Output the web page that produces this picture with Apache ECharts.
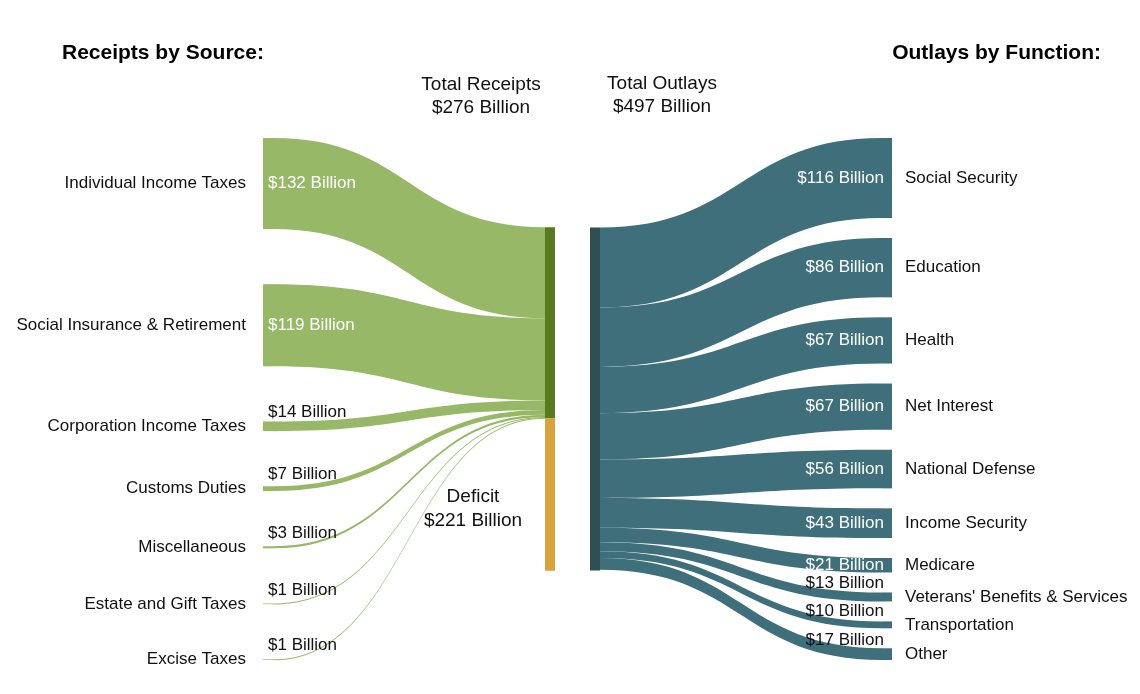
<!DOCTYPE html>
<html>
<head>
<meta charset="utf-8">
<script src="https://cdn.jsdelivr.net/npm/echarts@6/dist/echarts.min.js"></script>
<style>html,body{margin:0;padding:0;background:#fff}#chart{width:1140px;height:694px}</style>
</head>
<body>
<div id="chart"></div>
<script>
// ---- data ----
const receiptSources = ['Individual Income Taxes', 'Social Insurance & Retirement', 'Corporation Income Taxes', 'Customs Duties', 'Miscellaneous', 'Estate and Gift Taxes', 'Excise Taxes'];
const receiptValues = [132, 119, 14, 7, 3, 1, 1];
const totalReceipts = 276;
const deficitValue = 221;
const totalOutlays = 497;
const outlayFunctions = ['Social Security', 'Education', 'Health', 'Net Interest', 'National Defense', 'Income Security', 'Medicare', "Veterans' Benefits & Services", 'Transportation', 'Other'];
const outlayValues = [116, 86, 67, 67, 56, 43, 21, 13, 10, 17];

// ---- style / layout constants ----
const FONT = '"Liberation Sans", Arial, Helvetica, sans-serif';
const GREEN = '#97b866', DKGREEN = '#5a7a22', ORANGE = '#d7a33b', TEAL = '#3e6f7a', DKTEAL = '#2f4f52';
const CHART_H = 694, BOX_TOP = 138, BOX_BOTTOM = 34;
const BOX_H = CHART_H - BOX_TOP - BOX_BOTTOM;
const KY = 0.69;           // pixels per billion (shared scale)
const NODE_W = 10;
const LABEL_SIZE = 17;
const sum = a => a.reduce((s, v) => s + v, 0);
const gapL = (BOX_H - sum(receiptValues) * KY) / (receiptValues.length - 1);
const gapR = (BOX_H - sum(outlayValues) * KY) / (outlayValues.length - 1);

const ctx = document.createElement('canvas').getContext('2d');
function textW(s, size) { ctx.font = size + 'px "Liberation Sans"'; return ctx.measureText(s).width; }
const money = v => '$' + v + ' Billion';
const fitsInside = v => v * KY >= 14;

function richStyles(side) {
  const base = { fontFamily: FONT, fontSize: LABEL_SIZE };
  return {
    n: Object.assign({ color: '#111', padding: side === 'left' ? 0 : [0, 0, 0, 21] }, base),
    vi: Object.assign({ color: '#ffffff', padding: side === 'left' ? [0, 0, 0, 22] : 0 }, base),
    vo: Object.assign({ color: '#111', padding: side === 'left' ? [0, 0, 28, 22] : [0, 0, 28, 0] }, base)
  };
}

// ---- receipts series ----
const receiptsNodeValue = Math.max(sum(receiptValues), totalReceipts);
const midSpanL = (receiptsNodeValue + deficitValue) * KY;
const midTopL = (BOX_H - midSpanL) / 2;

const leftNodes = receiptSources.map((name, i) => {
  const v = receiptValues[i];
  const tag = fitsInside(v) ? 'vi' : 'vo';
  return {
    name: name,
    value: v,
    itemStyle: { color: GREEN },
    label: {
      show: true,
      position: [-17 - textW(name, LABEL_SIZE), '50%'],
      align: 'left',
      verticalAlign: 'middle',
      formatter: '{n|' + name + '}{' + tag + '|' + money(v) + '}',
      rich: richStyles('left')
    }
  };
});
leftNodes.push({
  name: 'Total Receipts', value: totalReceipts, depth: 1,
  localY: midTopL / BOX_H,
  itemStyle: { color: DKGREEN },
  label: { show: false }
});
leftNodes.push({
  name: 'Deficit', value: deficitValue, depth: 1,
  localY: (midTopL + receiptsNodeValue * KY) / BOX_H,
  itemStyle: { color: ORANGE },
  label: {
    show: true,
    formatter: 'Deficit\n' + money(deficitValue),
    position: [-72, '59%'],
    align: 'center',
    verticalAlign: 'middle',
    fontFamily: FONT, fontSize: 19, lineHeight: 24, color: '#111'
  }
});
const leftLinks = receiptSources.map((name, i) => ({ source: name, target: 'Total Receipts', value: receiptValues[i] }));

// ---- outlays series ----
const midTopR = (BOX_H - totalOutlays * KY) / 2;
const rightNodes = [{
  name: 'Total Outlays', value: totalOutlays,
  localY: midTopR / BOX_H,
  itemStyle: { color: DKTEAL },
  label: { show: false }
}];
outlayFunctions.forEach((name, i) => {
  const v = outlayValues[i];
  const tag = fitsInside(v) ? 'vi' : 'vo';
  rightNodes.push({
    name: name,
    value: v,
    itemStyle: { color: TEAL },
    label: {
      show: true,
      position: [2 - textW(money(v), LABEL_SIZE), '50%'],
      align: 'left',
      verticalAlign: 'middle',
      formatter: '{' + tag + '|' + money(v) + '}{n|' + name + '}',
      rich: richStyles('right')
    }
  });
});
const rightLinks = outlayFunctions.map((name, i) => ({ source: 'Total Outlays', target: name, value: outlayValues[i] }));

const chart = echarts.init(document.getElementById('chart'), null, { renderer: 'canvas' });
chart.setOption({
  backgroundColor: '#ffffff',
  animation: false,
  textStyle: { fontFamily: FONT },
  graphic: [
    { type: 'text', x: 62, y: 53, style: { text: 'Receipts by Source:', fill: '#000', fontFamily: FONT, fontSize: 21, fontWeight: 'bold', align: 'left', verticalAlign: 'middle' } },
    { type: 'text', x: 1101, y: 53, style: { text: 'Outlays by Function:', fill: '#000', fontFamily: FONT, fontSize: 21, fontWeight: 'bold', align: 'right', verticalAlign: 'middle' } },
    { type: 'text', x: 481, y: 96.5, style: { text: 'Total Receipts\n' + money(totalReceipts), fill: '#111', fontFamily: FONT, fontSize: 19, lineHeight: 23, align: 'center', verticalAlign: 'middle' } },
    { type: 'text', x: 662, y: 95.5, style: { text: 'Total Outlays\n' + money(totalOutlays), fill: '#111', fontFamily: FONT, fontSize: 19, lineHeight: 23, align: 'center', verticalAlign: 'middle' } }
  ],
  series: [
    {
      type: 'sankey',
      left: 263, top: BOX_TOP, width: 292, height: BOX_H,
      nodeWidth: NODE_W,
      nodeGap: gapL,
      nodeAlign: 'left',
      layoutIterations: 0,
      draggable: false,
      emphasis: { disabled: true },
      itemStyle: { borderWidth: 0 },
      lineStyle: { color: GREEN, opacity: 1, curveness: 0.5 },
      data: leftNodes,
      links: leftLinks
    },
    {
      type: 'sankey',
      left: 590, top: BOX_TOP, width: 302, height: BOX_H,
      nodeWidth: NODE_W,
      nodeGap: gapR,
      nodeAlign: 'left',
      layoutIterations: 0,
      draggable: false,
      emphasis: { disabled: true },
      itemStyle: { borderWidth: 0 },
      lineStyle: { color: TEAL, opacity: 1, curveness: 0.5 },
      data: rightNodes,
      links: rightLinks
    }
  ]
});
</script>
</body>
</html>
